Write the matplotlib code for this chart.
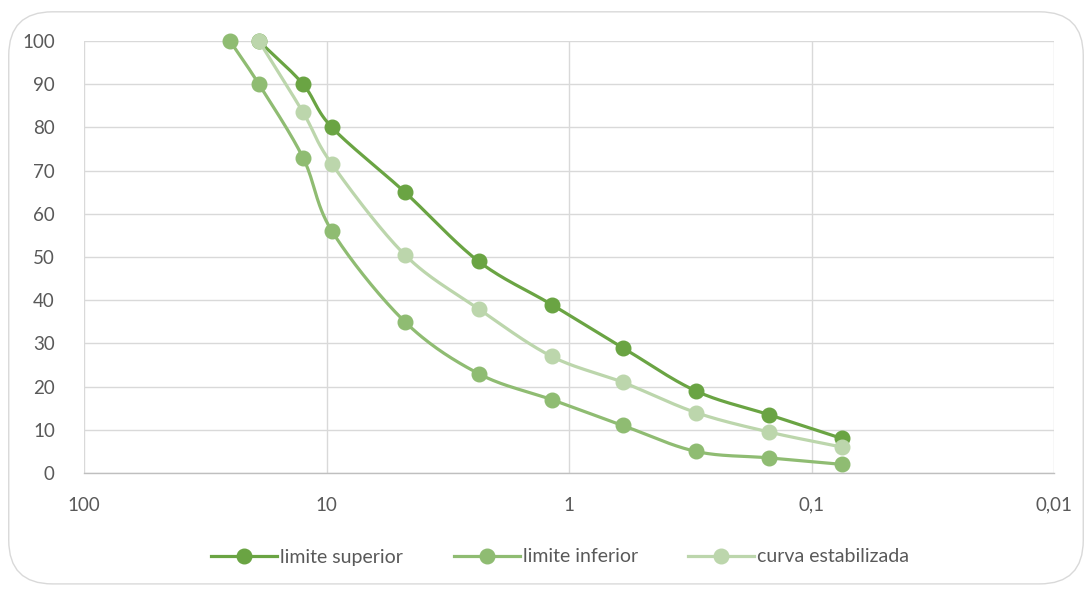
import numpy as np
import matplotlib
matplotlib.use("Agg")
import matplotlib.pyplot as plt
from matplotlib.patches import FancyBboxPatch
from matplotlib.lines import Line2D

sieves_sup = [19, 12.5, 9.5, 4.75, 2.36, 1.18, 0.6, 0.3, 0.15, 0.075]
lim_sup = [100, 90, 80, 65, 49, 39, 29, 19, 13.5, 8]
sieves_inf = [25, 19, 12.5, 9.5, 4.75, 2.36, 1.18, 0.6, 0.3, 0.15, 0.075]
lim_inf = [100, 90, 73, 56, 35, 23, 17, 11, 5, 3.5, 2]
sieves_curva = [19, 12.5, 9.5, 4.75, 2.36, 1.18, 0.6, 0.3, 0.15, 0.075]
curva = [100, 83.5, 71.5, 50.5, 38, 27, 21, 14, 9.5, 6]
x_ticks = [100, 10, 1, 0.1, 0.01]
x_labels = ["100", "10", "1", "0,1", "0,01"]
y_ticks = list(range(0, 101, 10))
names = ["limite superior", "limite inferior", "curva estabilizada"]
colors = ["#6AA443", "#8FBC72", "#BCD6AC"]

plt.rcParams['font.family'] = ['Lato', 'DejaVu Sans']

fig = plt.figure(figsize=(10.92, 5.91), dpi=100)
fig.patch.set_facecolor("white")
border = FancyBboxPatch((0.008, 0.012), 0.984, 0.968,
                        boxstyle="round,pad=0,rounding_size=0.04",
                        transform=fig.transFigure, facecolor="none",
                        edgecolor="#D9D9D9", linewidth=1.0,
                        mutation_aspect=1092/591, zorder=-5)
fig.patches.append(border)

ax = fig.add_axes([84/1092, 1 - 473/591, (1054-84)/1092, (473-41)/591])
ax.set_xscale("log")
ax.set_xlim(100, 0.01)
ax.set_ylim(0, 100)


def smooth(xs, ys, n=30):
    # Catmull-Rom smoothing of the drawn path in log-x space (Excel-like)
    lx = np.log10(np.asarray(xs, float))
    y = np.asarray(ys, float)
    px = np.concatenate([[2*lx[0]-lx[1]], lx, [2*lx[-1]-lx[-2]]])
    py = np.concatenate([[2*y[0]-y[1]], y, [2*y[-1]-y[-2]]])
    ox, oy = [], []
    for i in range(1, len(px)-2):
        t = np.linspace(0, 1, n, endpoint=False)
        for arr, out in ((px, ox), (py, oy)):
            p0, p1, p2, p3 = arr[i-1], arr[i], arr[i+1], arr[i+2]
            out.extend(0.5*((2*p1) + (-p0+p2)*t + (2*p0-5*p1+4*p2-p3)*t**2
                            + (-p0+3*p1-3*p2+p3)*t**3))
    ox.append(lx[-1]); oy.append(y[-1])
    return 10**np.array(ox), np.array(oy)


series = [(sieves_sup, lim_sup), (sieves_inf, lim_inf), (sieves_curva, curva)]
zs = [3.1, 3.2, 3.3]
for (xs, ys), c, z in zip(series, colors, zs):
    sx, sy = smooth(xs, ys)
    ax.plot(sx, sy, color=c, lw=2.3, zorder=z, solid_capstyle="round",
            clip_on=False)
    ax.plot(xs, ys, ls="none", marker="o", ms=10.5, color=c, zorder=z,
            clip_on=False)

ax.set_xticks(x_ticks)
ax.set_xticklabels(x_labels)
ax.xaxis.set_minor_locator(matplotlib.ticker.NullLocator())
ax.set_yticks(y_ticks)
ax.grid(True, color="#D9D9D9", lw=1.0, zorder=0)
ax.set_axisbelow(True)
for s in ["top", "right", "left"]:
    ax.spines[s].set_visible(False)
ax.spines["bottom"].set_color("#BFBFBF")
ax.spines["bottom"].set_linewidth(1.0)
ax.tick_params(length=0, labelsize=13.5, labelcolor="#595959")
ax.tick_params(axis="x", pad=17)
ax.tick_params(axis="y", pad=21)

handles = [Line2D([0], [0], color=c, lw=2.3, marker="o", ms=10.5) for c in colors]
fig.legend(handles, names, loc="center", bbox_to_anchor=(0.513, 1 - 557/591),
           ncol=3, frameon=False, fontsize=14, labelcolor="#595959",
           handlelength=3.4, handletextpad=0.15, columnspacing=2.6)

fig.savefig("out.png", dpi=100, facecolor="white")
